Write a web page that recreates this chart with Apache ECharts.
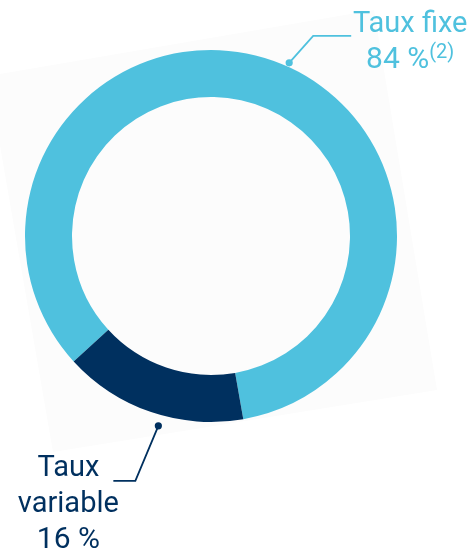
<!DOCTYPE html>
<html><head><meta charset="utf-8">
<script src="https://cdn.jsdelivr.net/npm/echarts@6/dist/echarts.min.js"></script>
<style>html,body{margin:0;padding:0;background:#fff;}#c{width:467px;height:552px;}</style>
</head><body><div id="c"></div>
<script>
// ---- data ----
const categories = ['Taux fixe', 'Taux variable'];
const labelNames = ['Taux fixe', 'Taux\nvariable'];
const values = [84, 16];
const valueLabels = ['84 %', '16 %'];
const footnotes = ['(2)', ''];

// ---- styles / layout ----
const COLORS = ['#4FC1DE', '#00305F'];
const CENTER = [211, 236];
const RADIUS = [139, 186];
const START_ANGLE = 222.4;
const FONT = 'Roboto';
// leader geometry relative to each slice's mid-angle point on the outer edge
const LEADER = [
  { da: 5.5, dr: 4, elbow: [24, -27], run: 38, label: [59, -29] },
  { da: -3.3, dr: 11, elbow: [-23, 55], run: -22, label: [-45, -30] }
];
const CARD = [[-12, 76], [374, 10], [437, 390], [53, 452]];

const chart = echarts.init(document.getElementById('c'), null, { renderer: 'canvas' });

function labelText(i) {
  const lines = labelNames[i].split('\n').map(s => '{name|' + s + '}');
  let t = lines.join('\n') + '\n{val|' + valueLabels[i] + '}';
  if (footnotes[i]) t += '{sup|' + footnotes[i] + '}';
  return t;
}

const seriesData = categories.map((name, i) => ({
  name: name,
  value: values[i],
  itemStyle: { color: COLORS[i] },
  label: {
    color: COLORS[i],
    formatter: labelText(i),
    rich: {
      name: { fontFamily: FONT, fontSize: 29, lineHeight: 36, color: COLORS[i] },
      val: { fontFamily: FONT, fontSize: 30, lineHeight: 36, color: COLORS[i] },
      sup: { fontFamily: FONT, fontSize: 20, color: COLORS[i], verticalAlign: 'top', lineHeight: 10 }
    }
  },
  labelLine: { lineStyle: { color: COLORS[i] } }
}));

const cardGraphic = {
  type: 'polygon', id: 'card', z: -10, silent: true,
  shape: { points: CARD },
  style: { fill: '#fcfcfc' }
};

chart.setOption({
  animation: false,
  backgroundColor: '#ffffff',
  graphic: [cardGraphic],
  series: [{
    type: 'pie',
    center: CENTER,
    radius: RADIUS,
    startAngle: START_ANGLE,
    clockwise: true,
    avoidLabelOverlap: false,
    silent: true,
    itemStyle: { borderWidth: 0 },
    label: {
      show: true,
      position: 'outside',
      fontFamily: FONT,
      fontSize: 29,
      lineHeight: 36,
      align: 'center'
    },
    labelLine: { show: true, length: 10, length2: 10, smooth: false, lineStyle: { width: 1.8 } },
    data: seriesData
  }]
});

// read the library's pie layout to place leaders
const pieData = chart.getModel().getSeriesByIndex(0).getData();
const geo = values.map((v, i) => {
  const l = pieData.getItemLayout(i);
  const mid = (l.startAngle + l.endAngle) / 2;
  const L = LEADER[i];
  const a = mid + L.da * Math.PI / 180;
  const r = l.r + L.dr;
  const dot = [l.cx + r * Math.cos(a), l.cy + r * Math.sin(a)];
  const elbow = [dot[0] + L.elbow[0], dot[1] + L.elbow[1]];
  const end = [elbow[0] + L.run, elbow[1]];
  const lab = [end[0] + L.label[0], end[1] + L.label[1]];
  return { dot, elbow, end, lab };
});

chart.setOption({
  graphic: [cardGraphic].concat(geo.map((g, i) => ({
    type: 'circle', id: 'dot' + i, z: 100, silent: true,
    shape: { cx: g.dot[0], cy: g.dot[1], r: 3.6 },
    style: { fill: COLORS[i] }
  }))),
  series: [{
    labelLayout: function (params) {
      const g = geo[params.dataIndex];
      return {
        x: g.lab[0], y: g.lab[1],
        align: 'center', verticalAlign: 'top',
        labelLinePoints: [g.dot, g.elbow, g.end]
      };
    }
  }]
});
</script>
</body></html>
